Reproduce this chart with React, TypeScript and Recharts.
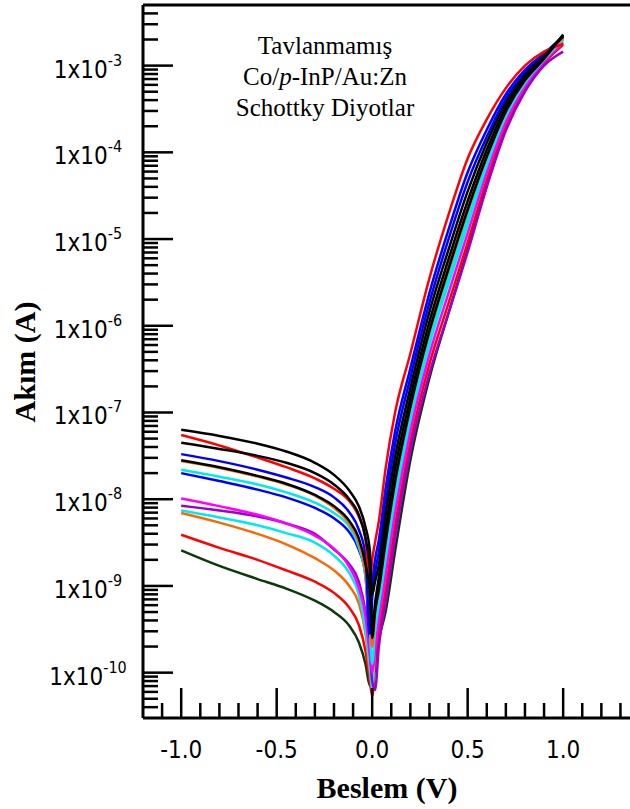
import { LineChart, Line, XAxis, YAxis, ReferenceLine } from 'recharts';

// bias points (V) shared by every curve
const voltage = [-1.0, -0.8, -0.6, -0.45, -0.3, -0.2, -0.12, -0.07, -0.035, -0.012, 0.0, 0.015, 0.035, 0.07, 0.12, 0.2, 0.3, 0.4, 0.5, 0.6, 0.7, 0.8, 0.9, 1.0];

// current (A), one list per diode
const black1 = [6.31e-8, 5.37e-8, 4.37e-8, 3.55e-8, 2.63e-8, 1.91e-8, 1.26e-8, 8.32e-9, 4.79e-9, 2.51e-9, 7.94e-10, 1.12e-9, 1.74e-9, 6.46e-9, 3.09e-8, 1.91e-7, 1.45e-6, 7.59e-6, 3.55e-5, 1.29e-4, 3.72e-4, 7.76e-4, 1.29e-3, 2.24e-3];
const red1 = [5.5e-8, 4.17e-8, 3.02e-8, 2.34e-8, 1.74e-8, 1.32e-8, 9.55e-9, 6.31e-9, 3.55e-9, 1.0e-9, 2.0e-9, 3.16e-9, 5.62e-9, 2.24e-8, 1.0e-7, 4.79e-7, 3.55e-6, 1.91e-5, 8.51e-5, 2.4e-4, 5.5e-4, 1.0e-3, 1.45e-3, 1.78e-3];
const black2 = [4.47e-8, 3.8e-8, 3.16e-8, 2.63e-8, 2.0e-8, 1.48e-8, 1.0e-8, 6.61e-9, 3.55e-9, 1.58e-9, 3.16e-10, 6.31e-10, 1.26e-9, 4.47e-9, 2.24e-8, 1.48e-7, 1.12e-6, 5.89e-6, 2.75e-5, 1.07e-4, 3.31e-4, 7.24e-4, 1.26e-3, 2.19e-3];
const blue1 = [3.31e-8, 2.75e-8, 2.19e-8, 1.78e-8, 1.38e-8, 1.05e-8, 7.08e-9, 4.47e-9, 2.24e-9, 2.82e-10, 1.0e-9, 2.0e-9, 3.39e-9, 1.32e-8, 6.03e-8, 3.24e-7, 2.4e-6, 1.29e-5, 5.89e-5, 1.82e-4, 4.68e-4, 8.91e-4, 1.38e-3, 2.19e-3];
const black3 = [2.82e-8, 2.34e-8, 1.86e-8, 1.51e-8, 1.12e-8, 8.32e-9, 5.62e-9, 3.55e-9, 1.78e-9, 7.94e-10, 2.51e-10, 5.01e-10, 8.91e-10, 3.16e-9, 1.58e-8, 1.15e-7, 8.71e-7, 4.57e-6, 2.19e-5, 8.91e-5, 2.95e-4, 6.76e-4, 1.2e-3, 2.29e-3];
const orange1 = [2.75e-8, 2.29e-8, 1.82e-8, 1.48e-8, 1.1e-8, 7.94e-9, 5.25e-9, 3.16e-9, 1.41e-9, 3.98e-10, 2.0e-10, 5.01e-10, 1.05e-9, 3.72e-9, 1.86e-8, 1.29e-7, 1.0e-6, 5.13e-6, 2.45e-5, 9.77e-5, 3.09e-4, 7.08e-4, 1.23e-3, 2.09e-3];
const cyan1 = [2.19e-8, 1.82e-8, 1.48e-8, 1.2e-8, 9.12e-9, 6.92e-9, 4.79e-9, 2.82e-9, 1.26e-9, 3.16e-10, 1.26e-10, 3.16e-10, 6.46e-10, 2.19e-9, 1.15e-8, 8.91e-8, 6.76e-7, 3.55e-6, 1.7e-5, 7.41e-5, 2.63e-4, 6.31e-4, 1.17e-3, 2.0e-3];
const blue2 = [2.0e-8, 1.62e-8, 1.29e-8, 1.05e-8, 7.94e-9, 6.03e-9, 4.17e-9, 2.63e-9, 1.32e-9, 2.51e-10, 7.08e-10, 1.41e-9, 2.45e-9, 9.12e-9, 4.37e-8, 2.51e-7, 1.86e-6, 1.0e-5, 4.57e-5, 1.51e-4, 4.17e-4, 8.32e-4, 1.32e-3, 2.14e-3];
const magenta1 = [1.02e-8, 8.32e-9, 6.61e-9, 5.25e-9, 3.8e-9, 2.69e-9, 1.66e-9, 9.55e-10, 4.47e-10, 1.58e-10, 1.0e-10, 1.78e-10, 3.89e-10, 1.29e-9, 6.92e-9, 6.03e-8, 4.68e-7, 2.4e-6, 1.17e-5, 5.75e-5, 2.24e-4, 5.75e-4, 1.12e-3, 1.82e-3];
const purple1 = [8.41e-9, 7.41e-9, 6.31e-9, 5.25e-9, 3.98e-9, 2.63e-9, 1.78e-9, 1.12e-9, 5.01e-10, 1.78e-10, 7.94e-11, 6.31e-11, 2.0e-10, 6.31e-10, 3.55e-9, 3.55e-8, 2.82e-7, 1.41e-6, 7.08e-6, 3.98e-5, 1.78e-4, 5.01e-4, 1.0e-3, 1.45e-3];
const cyan2 = [7.41e-9, 6.17e-9, 5.01e-9, 4.07e-9, 3.16e-9, 2.24e-9, 1.41e-9, 7.94e-10, 3.16e-10, 1.12e-10, 6.31e-11, 2.0e-10, 5.37e-10, 1.82e-9, 9.55e-9, 7.76e-8, 6.03e-7, 3.09e-6, 1.48e-5, 6.76e-5, 2.51e-4, 6.17e-4, 1.15e-3, 1.91e-3];
const orange2 = [6.92e-9, 5.37e-9, 3.98e-9, 3.02e-9, 2.09e-9, 1.51e-9, 1.0e-9, 6.31e-10, 2.82e-10, 1.0e-10, 7.08e-11, 2.51e-10, 7.59e-10, 2.63e-9, 1.35e-8, 1.0e-7, 7.76e-7, 3.98e-6, 1.91e-5, 8.13e-5, 2.82e-4, 6.61e-4, 1.2e-3, 2.0e-3];
const red2 = [3.89e-9, 2.75e-9, 2.0e-9, 1.51e-9, 1.12e-9, 8.32e-10, 5.62e-10, 3.55e-10, 1.78e-10, 7.94e-11, 5.37e-11, 1.12e-10, 2.75e-10, 8.91e-10, 4.9e-9, 4.57e-8, 3.63e-7, 1.82e-6, 9.12e-6, 4.79e-5, 2.0e-4, 5.37e-4, 1.07e-3, 1.74e-3];
const green1 = [2.57e-9, 1.7e-9, 1.2e-9, 9.33e-10, 6.76e-10, 5.01e-10, 3.47e-10, 2.24e-10, 1.26e-10, 7.08e-11, 1.12e-10, 1.58e-10, 2.51e-10, 5.01e-10, 2.51e-9, 2.82e-8, 2.51e-7, 1.41e-6, 7.59e-6, 4.17e-5, 1.91e-4, 5.5e-4, 1.1e-3, 2.09e-3];

// drawing order: first ones end up underneath
const seriesList = [
  { key: 'green1', color: '#0a3a0a', values: green1 },
  { key: 'red2', color: '#ff0000', values: red2 },
  { key: 'orange2', color: '#ff6600', values: orange2 },
  { key: 'cyan2', color: '#00e8f0', values: cyan2 },
  { key: 'purple1', color: '#9a00d0', values: purple1 },
  { key: 'magenta1', color: '#ff00ff', values: magenta1 },
  { key: 'blue2', color: '#0000ff', values: blue2 },
  { key: 'cyan1', color: '#00e8f0', values: cyan1 },
  { key: 'orange1', color: '#ff6600', values: orange1 },
  { key: 'blue1', color: '#0000ff', values: blue1 },
  { key: 'red1', color: '#ff0000', values: red1 },
  { key: 'black3', color: '#000000', values: black3 },
  { key: 'black2', color: '#000000', values: black2 },
  { key: 'black1', color: '#000000', values: black1 },
];

const yExponents = [-10, -9, -8, -7, -6, -5, -4, -3];
const xMajorTicks = [-1.0, -0.5, 0.0, 0.5, 1.0];
const xTicks = [-1.1, -1.0, -0.9, -0.8, -0.7, -0.6, -0.5, -0.4, -0.3, -0.2, -0.1, 0.0, 0.1, 0.2, 0.3, 0.4, 0.5, 0.6, 0.7, 0.8, 0.9, 1.0, 1.1, 1.2, 1.3];

const chartData = voltage.map((v, i) => {
  const row: Record<string, number> = { v };
  seriesList.forEach((s) => { row[s.key] = s.values[i]; });
  return row;
});

// majors plus 2..9 minors inside the visible range 3e-11 .. 5e-3
const yTicks: number[] = [];
[-11, ...yExponents].forEach((e) => {
  for (let m = 1; m <= 9; m++) {
    const val = Number((m * Math.pow(10, e)).toPrecision(3));
    if (val > 3.01e-11 && val < 4.99e-3) yTicks.push(val);
  }
});

const tickFont = "'DejaVu Sans Condensed', 'DejaVu Sans', sans-serif";
const serif = "'Liberation Serif', 'Times New Roman', serif";

const YTick = (props: any) => {
  const { x, y, payload } = props;
  const val = payload.value as number;
  const exp = Math.round(Math.log10(val));
  const isMajor = Math.abs(val / Math.pow(10, exp) - 1) < 1e-6;
  return (
    <g>
      <line x1={x} x2={x + (isMajor ? 30 : 15)} y1={y} y2={y} stroke="#000" strokeWidth={2.5} />
      {isMajor && (
        <text x={x - 55} y={y + 12} textAnchor="middle" fontFamily={tickFont} fontSize={24} fill="#000">
          <tspan>1x10</tspan>
          <tspan dy={-12} fontSize={16}>{exp}</tspan>
        </text>
      )}
    </g>
  );
};

const XTick = (props: any) => {
  const { x, y, payload } = props;
  const val = payload.value as number;
  const isMajor = xMajorTicks.some((t) => Math.abs(t - val) < 1e-6);
  return (
    <g>
      <line x1={x} x2={x} y1={y} y2={y - (isMajor ? 30 : 15)} stroke="#000" strokeWidth={2.5} />
      {isMajor && (
        <text x={x} y={y + 40} textAnchor="middle" fontFamily={tickFont} fontSize={24} fill="#000">
          {val.toFixed(1)}
        </text>
      )}
    </g>
  );
};

export default function App() {
  return (
    <div style={{ position: 'absolute', left: 0, top: 0, width: 630, height: 809, background: '#fff' }}>
      <LineChart width={630} height={809} data={chartData} margin={{ top: 5, right: 0, bottom: 0, left: 0 }}>
        <XAxis
          dataKey="v"
          type="number"
          domain={[-1.2, 1.35]}
          allowDataOverflow
          ticks={xTicks}
          interval={0}
          tickSize={0}
          tickMargin={0}
          tickLine={false}
          tick={<XTick />}
          height={91}
          axisLine={{ stroke: '#000', strokeWidth: 3 }}
        />
        <YAxis
          type="number"
          scale="log"
          domain={[3e-11, 5e-3]}
          allowDataOverflow
          ticks={yTicks}
          interval={0}
          tickSize={0}
          tickMargin={0}
          tickLine={false}
          tick={<YTick />}
          width={143}
          axisLine={{ stroke: '#000', strokeWidth: 3 }}
        />
        <ReferenceLine y={5e-3} stroke="#000" strokeWidth={3} />
        {seriesList.map((s) => (
          <Line
            key={s.key}
            dataKey={s.key}
            type="monotone"
            stroke={s.color}
            strokeWidth={2.5}
            dot={false}
            isAnimationActive={false}
          />
        ))}
      </LineChart>
      <svg width={630} height={809} style={{ position: 'absolute', left: 0, top: 0, pointerEvents: 'none' }}>
        <g fontFamily={serif} fontSize={25} fill="#000" textAnchor="middle">
          <text x={325} y={54}>Tavlanmamış</text>
          <text x={325} y={85}>
            Co/<tspan fontStyle="italic">p</tspan>-InP/Au:Zn
          </text>
          <text x={325} y={116}>Schottky Diyotlar</text>
        </g>
        <text x={387} y={798} textAnchor="middle" fontFamily={serif} fontWeight="bold" fontSize={30} fill="#000">
          Beslem (V)
        </text>
        <text
          transform="translate(35, 362) rotate(-90)"
          textAnchor="middle"
          fontFamily={serif}
          fontWeight="bold"
          fontSize={30}
          fill="#000"
        >
          Akım (A)
        </text>
      </svg>
    </div>
  );
}
